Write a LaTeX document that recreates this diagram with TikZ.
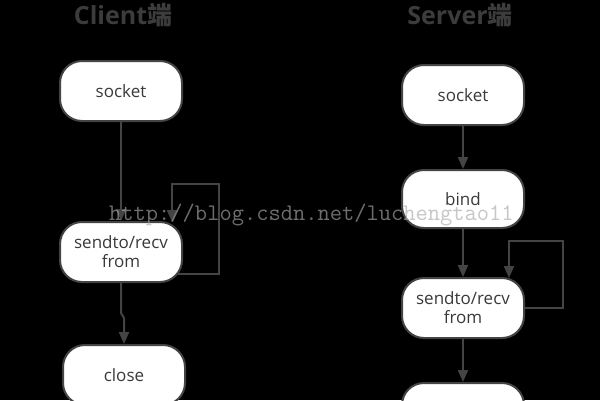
\documentclass[tikz,border=0pt]{standalone}
\usepackage{fontspec}
\setmainfont{Open Sans}
\newfontfamily\cjk{Noto Sans CJK SC}
\usetikzlibrary{arrows.meta}
\definecolor{ln}{HTML}{444444}
\definecolor{txt}{HTML}{3A3A3A}
\definecolor{ttl}{HTML}{3C3C3C}
\definecolor{wm}{HTML}{A8A8A8}
\begin{document}
\begin{tikzpicture}[x=1pt,y=-1pt,
  box/.style={draw=ln, line width=2pt, fill=white, rounded corners=22pt,
    minimum width=122pt, minimum height=60pt, inner sep=0pt, align=center,
    text=txt, font=\fontsize{17}{19}\selectfont},
  conn/.style={draw=ln, line width=2pt, -{Triangle[length=12pt,width=10pt]}},
  title/.style={text=ttl, font=\fontsize{25}{28}\selectfont\bfseries},
  wmark/.style={text=wm, opacity=0.65, font=\fontsize{23.8}{26}\selectfont\ttfamily, inner sep=0pt}]
\fill[black] (0,0) rectangle (600,400);
\useasboundingbox (0,0) rectangle (600,400);
% titles
\node[title] (tc) at (123,15) {Client{\cjk 端}};
\node[title] (ts) at (460,15) {Server{\cjk 端}};
% client nodes
\node[box] (csock) at (121,91) {socket};
\node[box] (csend) at (121,252) {sendto/recv\\from};
\node[box] (cclose) at (124,375) {close};
% server nodes
\node[box] (ssock) at (463,95) {socket};
\node[box, minimum height=58pt] (sbind) at (463,199) {bind};
\node[box] (ssend) at (463,308) {sendto/recv\\from};
\node[box] (sclose) at (463,413) {};
% helper coordinates
\coordinate (cl0) at (177,274);
\coordinate (cl1) at (172,222);
\coordinate (sl1) at (509,278);
% client connectors
\draw[conn] (csock.south) -- (csend.north);
\draw[conn] (csend.south) -- (121,313) -- (124,318) -- (cclose.north);
\draw[conn] (cl0) -- (219,274) -- (219,184) -| (cl1);
% server connectors
\draw[conn] (ssock.south) -- (sbind.north);
\draw[conn] (sbind.south) -- (ssend.north);
\draw[conn] (ssend.south) -- (sclose.north);
\draw[conn] (ssend.east) -- (563,308) -- (563,241) -| (sl1);
% watermark
\node[wmark, anchor=base west] (wm) at (109,220) {http://blog.csdn.net/luchengtao11};
\end{tikzpicture}
\end{document}
